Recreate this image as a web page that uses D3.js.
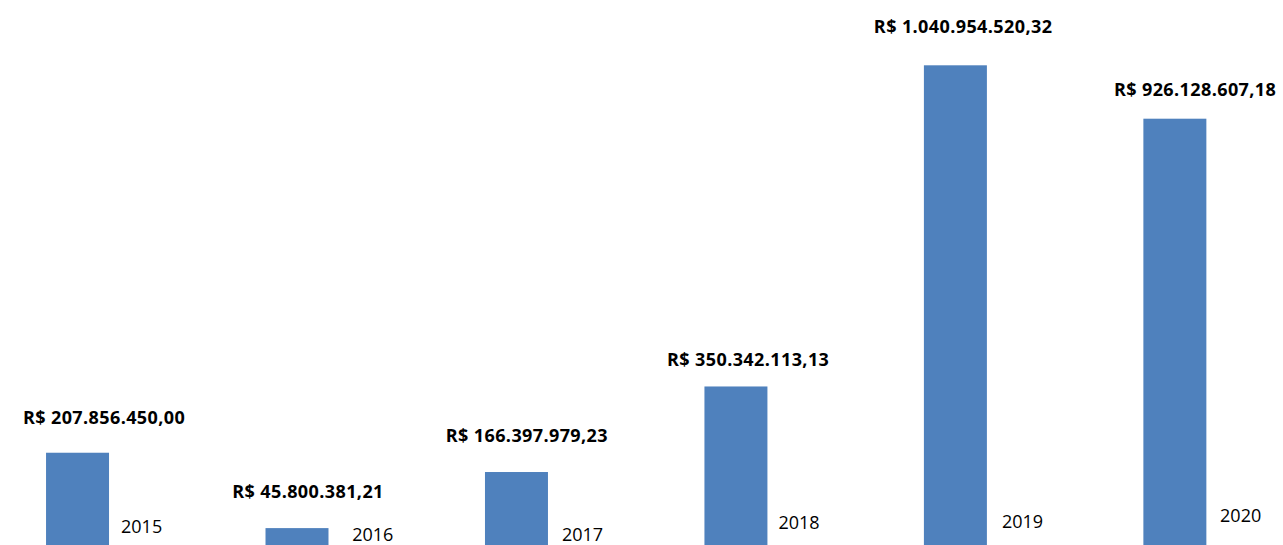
<!DOCTYPE html>
<html>
<head>
<meta charset="utf-8">
<script src="https://cdn.jsdelivr.net/npm/d3@7"></script>
<style>
  html, body { margin: 0; padding: 0; background: #fff; }
  svg { display: block; }
</style>
</head>
<body>
<svg id="chart"></svg>
<script>
// data
const years = ["2015", "2016", "2017", "2018", "2019", "2020"];
const values = [207856450.00, 45800381.21, 166397979.23, 350342113.13, 1040954520.32, 926128607.18];

// hand placed labels in the original (layout only)
const valueNudge = [[26.5, 28.4], [11, 30.4], [10.4, 30], [12.2, 20.7], [7.7, 32], [20.2, 22.7]];
const yearNudge = [[12, 533.3], [23.7, 541], [14, 541], [11, 529.3], [15, 528.3], [13.7, 522.3]];

const width = 1283, height = 545;
const baseline = 549.4, topY = 65.3;

const svg = d3.select("#chart")
    .attr("width", width)
    .attr("height", height);

const br = d3.formatLocale({
    decimal: ",",
    thousands: ".",
    grouping: [3],
    currency: ["R$ ", ""]
});
const fmt = br.format("$,.2f");

const x = d3.scaleBand()
    .domain(years)
    .range([-32.2, 1284.6])
    .paddingInner(0.713)
    .paddingOuter(0.3565);

const y = d3.scaleLinear()
    .domain([0, d3.max(values)])
    .range([baseline, topY]);

const data = years.map((yr, i) => ({ year: yr, value: values[i], i: i }));

svg.selectAll(".bar")
    .data(data)
    .enter().append("rect")
    .attr("class", "bar")
    .attr("x", d => x(d.year))
    .attr("width", x.bandwidth())
    .attr("y", d => y(d.value))
    .attr("height", d => baseline - y(d.value))
    .attr("fill", "#4f81bd");

svg.selectAll(".value")
    .data(data)
    .enter().append("text")
    .attr("class", "value")
    .attr("x", d => x(d.year) + x.bandwidth() / 2 + valueNudge[d.i][0])
    .attr("y", d => y(d.value) - valueNudge[d.i][1])
    .attr("text-anchor", "middle")
    .style("font-family", "'Open Sans', sans-serif")
    .style("font-weight", "bold")
    .style("font-size", "18px")
    .style("letter-spacing", "0.4px")
    .style("fill", "#000")
    .text(d => fmt(d.value));

svg.selectAll(".year")
    .data(data)
    .enter().append("text")
    .attr("class", "year")
    .attr("x", d => x(d.year) + x.bandwidth() + yearNudge[d.i][0])
    .attr("y", d => yearNudge[d.i][1])
    .style("font-family", "'Open Sans', sans-serif")
    .style("font-size", "18px")
    .style("fill", "#000")
    .text(d => d.year);
</script>
</body>
</html>
